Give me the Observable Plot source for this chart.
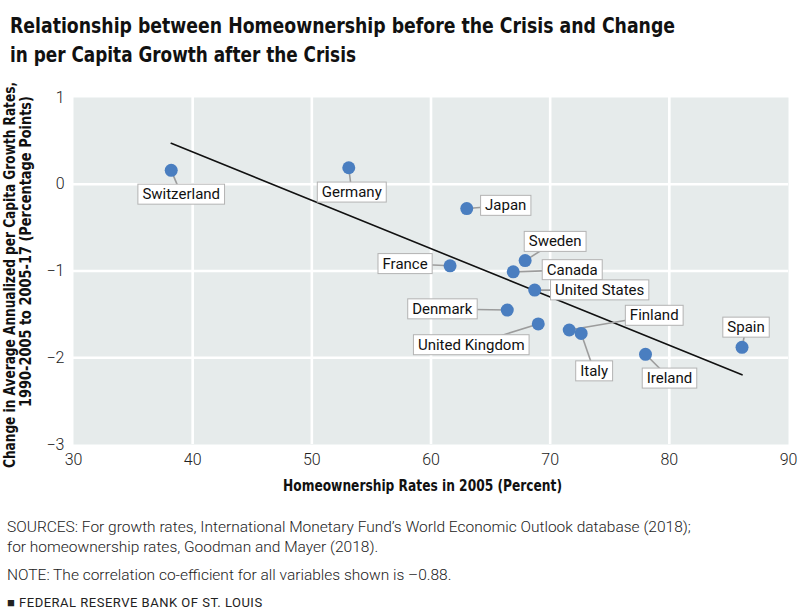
<!DOCTYPE html>
<html>
<head>
<meta charset="utf-8">
<script src="https://cdn.jsdelivr.net/npm/d3@7"></script>
<script src="https://cdn.jsdelivr.net/npm/@observablehq/plot@0.6"></script>
<style>
  html, body { margin: 0; padding: 0; background: #fff; }
  body { width: 800px; height: 616px; overflow: hidden; font-family: Roboto, "Liberation Sans", sans-serif; color: #222; }
  .title { font-family: "DejaVu Sans Condensed", "Liberation Sans", sans-serif; font-weight: 700; font-size: 22px; line-height: 29px; padding: 11px 0 0 10px; margin: 0; color: #111; white-space: nowrap; height: 58px; }
  .title span { display: inline-block; transform-origin: 0 50%; }
  #chart { margin-top: 15px; height: 420px; }
  #chart svg { display: block; }
  .notes { font-family: Roboto, sans-serif; font-weight: 300; font-size: 15.5px; color: #222; padding-left: 7px; }
  .src { line-height: 20px; margin-top: 13px; }
  .note { line-height: 20px; margin-top: 8px; }
  .frb { font-size: 13px; line-height: 16px; margin-top: 10px; font-weight: 400; letter-spacing: 0.5px; }
</style>
</head>
<body>
<div class="title"><span id="t1">Relationship between Homeownership before the Crisis and Change</span><br><span id="t2">in per Capita Growth after the Crisis</span></div>
<div id="chart"></div>
<div class="notes">
  <div class="src">SOURCES: For growth rates, International Monetary Fund’s World Economic Outlook database (2018);<br>for homeownership rates, Goodman and Mayer (2018).</div>
  <div class="note">NOTE: The correlation co-efficient for all variables shown is –0.88.</div>
  <div class="frb">■ FEDERAL RESERVE BANK OF ST. LOUIS</div>
</div>
<script>
// ---- data ----
const countries = ["Switzerland", "Germany", "France", "Japan", "Sweden", "Canada", "United States", "Denmark", "United Kingdom", "Finland", "Italy", "Ireland", "Spain"];
const homeownership = [38.2, 53.1, 61.6, 63.0, 67.9, 66.9, 68.7, 66.4, 69.0, 71.6, 72.6, 78.0, 86.1];
const growthChange = [0.16, 0.19, -0.94, -0.28, -0.88, -1.01, -1.22, -1.45, -1.61, -1.68, -1.72, -1.96, -1.88];
const xTicks = [30, 40, 50, 60, 70, 80, 90];
const yTicks = [-3, -2, -1, 0, 1];
const xTitle = "Homeownership Rates in 2005 (Percent)";
const yTitleLines = ["Change in Average Annualized per Capita Growth Rates,", "1990-2005 to 2005-17 (Percentage Points)"];

// ---- layout (label offsets in pixels from each point) ----
const labelDx = [10, 3, -45, 39, 30, 59, 65, -65, -67, 85, 13, 24, 4];
const labelDy = [24, 24.5, -2, -3, -19, -2, 0, -1, 21, -14.5, 37.6, 24, -20];

// fit title lines to the reference widths
[["t1", 665], ["t2", 346]].forEach(([id, w]) => {
  const el = document.getElementById(id);
  const cur = el.getBoundingClientRect().width;
  if (cur > 0) el.style.transform = `scaleX(${w / cur})`;
});

const W = 800, H = 420;
const mL = 73, mR = 12, mT = 13, mB = 60;
const pxPerX = (W - mL - mR) / (xTicks[xTicks.length - 1] - xTicks[0]);
const pxPerY = (H - mT - mB) / (yTicks[yTicks.length - 1] - yTicks[0]);

const data = countries.map((c, i) => ({
  country: c,
  x: homeownership[i],
  y: growthChange[i],
  lx: homeownership[i] + labelDx[i] / pxPerX,
  ly: growthChange[i] - labelDy[i] / pxPerY
}));

function regressionLine() {
  const mx = d3.mean(data, d => d.x), my = d3.mean(data, d => d.y);
  const sxy = d3.sum(data, d => (d.x - mx) * (d.y - my));
  const sxx = d3.sum(data, d => (d.x - mx) ** 2);
  const b = sxy / sxx, a = my - b * mx;
  const [x0, x1] = d3.extent(data, d => d.x);
  return [{x: x0, y: a + b * x0}, {x: x1, y: a + b * x1}];
}

const regMark = Plot.linearRegressionY
  ? Plot.linearRegressionY(data, {x: "x", y: "y", stroke: "#111", strokeWidth: 1.6, ci: 0})
  : Plot.line(regressionLine(), {x: "x", y: "y", stroke: "#111", strokeWidth: 1.6});

const fmt = d => (d < 0 ? "\u2212" : "") + Math.abs(d);

const plot = Plot.plot({
  width: W,
  height: H,
  marginLeft: mL,
  marginRight: mR,
  marginTop: mT,
  marginBottom: mB,
  style: {fontFamily: "Roboto, sans-serif", background: "transparent", overflow: "visible"},
  x: {domain: [xTicks[0], xTicks[xTicks.length - 1]]},
  y: {domain: [yTicks[0], yTicks[yTicks.length - 1]]},
  marks: [
    Plot.frame({fill: "#e6ebeb", stroke: null}),
    Plot.gridX(xTicks.slice(1, -1), {stroke: "#fff", strokeOpacity: 1, strokeWidth: 2.6}),
    Plot.gridY(yTicks.slice(1, -1), {stroke: "#fff", strokeOpacity: 1, strokeWidth: 2.6}),
    Plot.axisX(xTicks, {tickSize: 0, tickPadding: 9, fontSize: 16, fontWeight: 300, fill: "#222", label: null, tickFormat: fmt}),
    Plot.axisY(yTicks, {tickSize: 0, tickPadding: 9, fontSize: 16, fontWeight: 300, fill: "#222", label: null, tickFormat: fmt}),
    regMark,
    Plot.link(data, {x1: "x", y1: "y", x2: "lx", y2: "ly", stroke: "#9c9c9c", strokeWidth: 1.6}),
    Plot.text(data, {x: "lx", y: "ly", text: "country", fontSize: 15, fill: "#111", className: "ptlabels"}),
    Plot.dot(data, {x: "x", y: "y", r: 6.5, fill: "#4a7ec0", stroke: "none"})
  ]
});

document.getElementById("chart").appendChild(plot);

// white boxes behind the point labels
d3.select(plot).selectAll("g.ptlabels text").each(function () {
  const b = this.getBBox();
  const cy = b.y + b.height / 2;
  const r = d3.select(this.parentNode).insert("rect", () => this)
    .attr("x", b.x - 4.5).attr("y", cy - 10)
    .attr("width", b.width + 9).attr("height", 20)
    .attr("fill", "#fff").attr("stroke", "#b3b3b3").attr("stroke-width", 1);
  const t = this.getAttribute("transform");
  if (t) r.attr("transform", t);
});

// axis titles
const titleFont = "'DejaVu Sans Condensed', 'Liberation Sans', sans-serif";
const svg = d3.select(plot);
svg.append("text")
  .attr("x", 422.5).attr("y", 407)
  .attr("text-anchor", "middle")
  .attr("font-family", titleFont).attr("font-weight", 700).attr("font-size", 15)
  .attr("fill", "#111")
  .attr("textLength", 279).attr("lengthAdjust", "spacingAndGlyphs")
  .text(xTitle);

[[15, 191, 386], [31, 167.5, 311]].forEach(([bx, cy, len], i) => {
  svg.append("text")
    .attr("transform", `translate(${bx}, ${cy}) rotate(-90)`)
    .attr("text-anchor", "middle")
    .attr("font-family", titleFont).attr("font-weight", 700).attr("font-size", 15)
    .attr("fill", "#111")
    .attr("textLength", len).attr("lengthAdjust", "spacingAndGlyphs")
    .text(yTitleLines[i]);
});
</script>
</body>
</html>
